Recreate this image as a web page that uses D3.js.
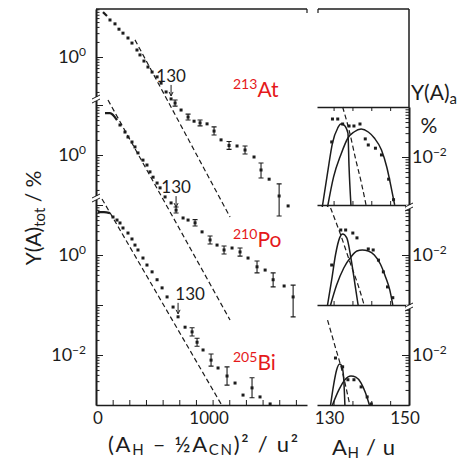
<!DOCTYPE html>
<html>
<head>
<meta charset="utf-8">
<script src="https://cdn.jsdelivr.net/npm/d3@7"></script>
<style>
  body { margin: 0; background: #fff; }
  text { font-family: Lato, "Open Sans", sans-serif; fill: #1c1c1c; }
</style>
</head>
<body>
<svg id="chart" width="457" height="465"></svg>
<script>
// ---- data ----
const massNumbers = ["213", "210", "205"];
const elements = ["At", "Po", "Bi"];

// left: x = (A_H - A_CN/2)^2 in u^2, y = Y(A)tot in %
const atTopX = [63, 99];
const atTopY = [7.9, 6.6];
const atMainX = [126, 171, 207, 243, 288, 324, 369, 396, 432, 468, 505, 550, 586, 631, 676];
const atMainY = [5.5, 4.6, 3.6, 3.0, 2.4, 1.9, 1.38, 1.1, 0.83, 0.63, 0.50, 0.40, 0.30, 0.20, 0.145];
const atTailX = [712, 766, 829, 883, 937, 1000, 1063, 1126, 1198, 1270, 1342, 1423, 1486, 1559, 1649, 1730];
const atTailY = [0.12, 0.087, 0.063, 0.052, 0.048, 0.046, 0.033, 0.022, 0.017, 0.0166, 0.0138, 0.010, 0.0055, 0.0036, 0.00166, 0.00105];
const atTailLo = [0.104, null, 0.055, null, 0.042, null, 0.0275, null, 0.0142, null, 0.0115, null, 0.0038, null, 0.00066, null];
const atTailHi = [0.138, null, 0.072, null, 0.055, null, 0.040, null, 0.0204, null, 0.0166, null, 0.0076, null, 0.0029, null];
const atDashX = [351, 1207];
const atDashY = [2.2, 0.00063];

const poTopX = [81, 126, 189];
const poTopY = [6.9, 6.9, 5.0];
const poMainX = [216, 261, 288, 324, 351, 378, 423, 459, 486, 514, 550, 577, 622, 676];
const poMainY = [3.98, 2.88, 2.29, 1.82, 1.45, 1.10, 0.79, 0.63, 0.46, 0.36, 0.275, 0.22, 0.145, 0.11];
const poTailX = [721, 784, 829, 892, 955, 1027, 1090, 1153, 1225, 1297, 1369, 1450, 1523, 1595, 1694, 1775];
const poTailY = [0.079, 0.055, 0.050, 0.044, 0.029, 0.020, 0.0158, 0.0126, 0.0138, 0.0115, 0.0087, 0.0058, 0.0050, 0.0032, 0.0024, 0.00145];
const poTailLo = [0.069, null, null, 0.038, null, 0.0166, null, 0.0105, null, 0.0095, null, 0.0044, null, 0.0023, null, 0.00058];
const poTailHi = [0.091, null, null, 0.051, null, 0.024, null, 0.0151, null, 0.0138, null, 0.0076, null, 0.0044, null, 0.0025];
const poDashX = [108, 1207];
const poDashY = [12.6, 0.0005];

const biTopX = [18, 72, 126];
const biTopY = [7.2, 7.2, 6.9];
const biMainX = [153, 189, 216, 243, 288, 324, 351, 378, 423, 459, 505, 550, 595, 640, 694, 739];
const biMainY = [5.75, 5.0, 4.37, 3.47, 2.75, 2.09, 1.58, 1.26, 0.87, 0.63, 0.46, 0.32, 0.22, 0.145, 0.091, 0.058];
const biTailX = [802, 865, 910, 964, 1036, 1099, 1180, 1252, 1324, 1405, 1477, 1568];
const biTailY = [0.036, 0.029, 0.018, 0.0126, 0.0079, 0.0055, 0.0038, 0.00275, 0.00158, 0.0022, 0.00145, 0.00105];
const biTailLo = [null, 0.024, 0.015, null, 0.006, null, 0.0025, null, null, 0.0014, null, null];
const biTailHi = [null, 0.035, 0.0216, null, 0.0105, null, 0.0058, null, null, 0.0035, null, null];
const biDashX = [54, 1126];
const biDashY = [13.2, 0.00105];

// the "130" marks, x in u^2
const mark130X = [676, 721, 739];

// right: A_H in u, Y(A)a in %
const atDotA = [129.5, 129.7, 131.1, 132.4, 134.1, 135.4, 137.0, 138.4, 139.2, 141.1, 142.7, 144.6, 145.9];
const atDotY = [0.020, 0.0575, 0.0575, 0.0457, 0.0417, 0.0417, 0.0457, 0.023, 0.0174, 0.015, 0.011, 0.0036, 0.0014];
const atNarrowA = [127.0, 128.4, 129.7, 131.1, 131.9, 132.7, 133.8, 134.1, 134.6];
const atNarrowY = [0.001, 0.0048, 0.019, 0.038, 0.0457, 0.0437, 0.030, 0.0063, 0.0011];
const atBroadA = [128.4, 130.0, 131.9, 133.8, 135.4, 137.3, 139.2, 140.8, 142.7, 144.1, 145.4, 146.2];
const atBroadY = [0.001, 0.004, 0.011, 0.024, 0.0316, 0.0363, 0.0316, 0.024, 0.0138, 0.0063, 0.0022, 0.0011];
const atFitA = [132.4, 134.1, 135.9, 137.3, 138.6];
const atFitY = [0.1, 0.0347, 0.0087, 0.0032, 0.0011];

const poDotA = [129.5, 131.9, 133.2, 135.1, 136.2, 139.2, 140.5, 141.9, 143.2, 144.3, 145.7];
const poDotY = [0.0063, 0.0316, 0.0316, 0.0275, 0.022, 0.0132, 0.0126, 0.0079, 0.0046, 0.0023, 0.0014];
const poNarrowA = [128.4, 129.5, 130.5, 131.6, 132.4, 133.5, 134.6, 135.7, 136.5];
const poNarrowY = [0.001, 0.0032, 0.010, 0.022, 0.0263, 0.022, 0.0087, 0.0025, 0.001];
const poBroadA = [129.2, 130.8, 132.7, 134.6, 136.2, 137.6, 139.2, 140.8, 142.4, 143.8, 144.9, 145.7];
const poBroadY = [0.001, 0.0025, 0.0055, 0.0091, 0.012, 0.0126, 0.012, 0.010, 0.0066, 0.0036, 0.002, 0.001];
const poFitA = [129.2, 131.9, 134.6, 136.5, 138.1];
const poFitY = [0.087, 0.025, 0.0063, 0.0025, 0.001];

const biDotA = [130.5, 132.4, 133.8, 135.4, 137.3, 138.9, 140.0];
const biDotY = [0.0087, 0.0058, 0.0032, 0.0032, 0.0023, 0.00145, 0.00105];
const biNarrowA = [129.2, 130.0, 130.8, 131.6, 132.2, 132.7, 133.0];
const biNarrowY = [0.001, 0.0025, 0.005, 0.0066, 0.006, 0.0032, 0.001];
const biBroadA = [129.7, 131.4, 133.0, 134.6, 135.9, 137.3, 138.4, 139.5];
const biBroadY = [0.001, 0.002, 0.0032, 0.0038, 0.0036, 0.00275, 0.0018, 0.001];
const biFitA = [128.4, 130.3, 132.2, 134.3];
const biFitY = [0.05, 0.0158, 0.005, 0.001];

// tick labels
const leftTickLabels = [[1], [1], [1, 0.01]];
const rightTickLabels = [[0.01], [0.01], [0.01]];
const xLeftTicks = d3.range(0, 1901, 150);
const xLeftLabels = [0, 1000];
const xRightTicks = [130, 135, 140, 145];
const xRightLabels = [130, 150];

// ---- drawing ----
const ink = "#1c1c1c";
const red = "#e5191b";
const svg = d3.select("#chart");

const xL = d3.scaleLinear().domain([0, 1900]).range([96, 307]);
const xR = d3.scaleLinear().domain([125.6, 150]).range([317, 409]);
const zeroY = [57, 155, 255];
const yS = zeroY.map(y0 => d3.scaleLog().domain([10, 1e-3]).range([y0 - 50, y0 + 150]));
const segL = [[9, 99], [99, 198], [198, 405]];
const segR = [[107, 205], [205, 305], [305, 405]];

const isDecade = v => Math.abs(Math.log10(v) - Math.round(Math.log10(v))) < 1e-6;

function logAxis(s, top, bottom, x, right) {
  const seg = s.copy().domain([s.invert(top), s.invert(bottom)]).range([top, bottom]);
  const vals = seg.ticks();
  const mk = right ? d3.axisRight : d3.axisLeft;
  const g = svg.append("g").attr("transform", `translate(${x},0)`);
  g.call(mk(seg).tickValues(vals.filter(v => !isDecade(v))).tickSize(3.5).tickSizeOuter(0).tickFormat(""));
  g.append("g").call(mk(seg).tickValues(vals.filter(isDecade)).tickSize(7).tickSizeOuter(0).tickFormat(""));
  g.selectAll("line").attr("stroke", ink).attr("stroke-width", 1);
  g.selectAll(".domain").attr("stroke", ink).attr("stroke-width", 1.6);
}

function powLabel(x, y, v, anchor) {
  const e = Math.round(Math.log10(v));
  const t = svg.append("text").attr("x", x).attr("y", y)
    .attr("text-anchor", anchor).attr("font-size", 18);
  t.append("tspan").text("10");
  t.append("tspan").attr("font-size", 12).attr("dy", -7).text(e < 0 ? "\u2212" + (-e) : e);
}

function breakMark(x, y) {
  svg.append("rect").attr("x", x - 3).attr("y", y - 2).attr("width", 6).attr("height", 4).attr("fill", "#fff");
  [-2, 2].forEach(o => svg.append("line")
    .attr("x1", x - 4).attr("y1", y + o + 2).attr("x2", x + 4).attr("y2", y + o - 2)
    .attr("stroke", ink).attr("stroke-width", 1));
}

// left frame
svg.append("line").attr("x1", 96).attr("x2", 307).attr("y1", 9).attr("y2", 9).attr("stroke", ink).attr("stroke-width", 1.5);
svg.append("line").attr("x1", 307).attr("x2", 307).attr("y1", 9).attr("y2", 13).attr("stroke", ink).attr("stroke-width", 1.2);
const gxl = svg.append("g").attr("transform", "translate(0,405)")
  .call(d3.axisTop(xL).tickValues(xLeftTicks).tickSize(5).tickSizeOuter(0).tickFormat(""));
gxl.selectAll("line").attr("stroke", ink);
gxl.select(".domain").attr("stroke", ink).attr("stroke-width", 1.6);

yS.forEach((s, i) => logAxis(s, segL[i][0], segL[i][1], 96, true));
breakMark(96, 99);
breakMark(96, 198);

// right frame
svg.append("line").attr("x1", 318).attr("x2", 409).attr("y1", 9).attr("y2", 9).attr("stroke", ink).attr("stroke-width", 1.5);
svg.append("line").attr("x1", 318).attr("x2", 318).attr("y1", 9).attr("y2", 13).attr("stroke", ink).attr("stroke-width", 1.2);
svg.append("line").attr("x1", 409).attr("x2", 409).attr("y1", 9).attr("y2", 107).attr("stroke", ink).attr("stroke-width", 1.5);
yS.forEach((s, i) => logAxis(s, segR[i][0], segR[i][1], 409, false));
[[107, d3.axisBottom], [205, d3.axisTop], [305, d3.axisTop], [405, d3.axisTop]].forEach(([y, mk]) => {
  const g = svg.append("g").attr("transform", `translate(0,${y})`)
    .call(mk(xR).tickValues(xRightTicks).tickSize(4).tickSizeOuter(0).tickFormat(""));
  g.selectAll("line").attr("stroke", ink);
  g.select(".domain").attr("stroke", ink).attr("stroke-width", 1.5);
});
breakMark(409, 207);
breakMark(409, 307);

// tick labels
leftTickLabels.forEach((vals, i) => vals.forEach(v => powLabel(86, yS[i](v) + 6, v, "end")));
rightTickLabels.forEach((vals, i) => vals.forEach(v => powLabel(412, yS[i](v) + 6, v, "start")));
xLeftLabels.forEach(v => svg.append("text").attr("x", xL(v) + 2).attr("y", 424)
  .attr("text-anchor", "middle").attr("font-size", 17).text(v));
xRightLabels.forEach(v => svg.append("text").attr("x", xR(v) - 4).attr("y", 424)
  .attr("text-anchor", "middle").attr("font-size", 17).text(v));

// axis titles
const xt = svg.append("text").attr("x", 108).attr("y", 452).attr("font-size", 22)
  .attr("textLength", 190).attr("lengthAdjust", "spacing");
xt.append("tspan").text("(A");
xt.append("tspan").attr("font-size", 15).attr("dy", 3).text("H");
xt.append("tspan").attr("dy", -3).text(" \u2013 \u00bdA");
xt.append("tspan").attr("font-size", 15).attr("dy", 3).text("CN");
xt.append("tspan").attr("dy", -3).text(")\u00b2 / u\u00b2");

const xr = svg.append("text").attr("x", 332).attr("y", 455).attr("font-size", 22)
  .attr("textLength", 63).attr("lengthAdjust", "spacing");
xr.append("tspan").text("A");
xr.append("tspan").attr("font-size", 15).attr("dy", 3).text("H");
xr.append("tspan").attr("dy", -3).text(" / u");

const yt = svg.append("text").attr("transform", "translate(41,218) rotate(-90)")
  .attr("text-anchor", "middle").attr("font-size", 21);
yt.append("tspan").text("Y(A)");
yt.append("tspan").attr("font-size", 15).attr("dy", 4).text("tot");
yt.append("tspan").attr("dy", -4).text(" / %");

const yr = svg.append("text").attr("x", 411).attr("y", 100).attr("font-size", 21);
yr.append("tspan").text("Y(A)");
yr.append("tspan").attr("font-size", 15).attr("dy", 4).text("a");
svg.append("text").attr("x", 429).attr("y", 133).attr("text-anchor", "middle").attr("font-size", 21).text("%");

// series
const left = [
  { top: [atTopX, atTopY], main: [atMainX, atMainY], tail: [atTailX, atTailY, atTailLo, atTailHi], dash: [atDashX, atDashY] },
  { top: [poTopX, poTopY], main: [poMainX, poMainY], tail: [poTailX, poTailY, poTailLo, poTailHi], dash: [poDashX, poDashY] },
  { top: [biTopX, biTopY], main: [biMainX, biMainY], tail: [biTailX, biTailY, biTailLo, biTailHi], dash: [biDashX, biDashY] }
];
const right = [
  { dots: [atDotA, atDotY], narrow: [atNarrowA, atNarrowY], broad: [atBroadA, atBroadY], fit: [atFitA, atFitY] },
  { dots: [poDotA, poDotY], narrow: [poNarrowA, poNarrowY], broad: [poBroadA, poBroadY], fit: [poFitA, poFitY] },
  { dots: [biDotA, biDotY], narrow: [biNarrowA, biNarrowY], broad: [biBroadA, biBroadY], fit: [biFitA, biFitY] }
];
const labelDx = [0, 0, 12];
const labelY = [97, 247, 370];

function drawDots(g, pts, xs, ys) {
  g.selectAll(null).data(pts).join("rect")
    .attr("x", d => xs(d[0]) - 1.5).attr("y", d => ys(d[1]) - 1.5)
    .attr("width", 3).attr("height", 3).attr("fill", ink);
}
function drawLine(g, pts, xs, ys, dashed, w) {
  g.append("path").datum(pts)
    .attr("d", d3.line().x(d => xs(d[0])).y(d => ys(d[1])).curve(d3.curveMonotoneX))
    .attr("fill", "none").attr("stroke", ink).attr("stroke-width", w)
    .attr("stroke-dasharray", dashed ? "5,3" : null);
}

left.forEach((s, i) => {
  const ys = yS[i];
  const g = svg.append("g");
  drawLine(g, d3.zip(...s.dash), xL, ys, true, 1.2);
  drawLine(g, d3.zip(...s.top), xL, ys, false, 2.2);
  drawDots(g, d3.zip(...s.main), xL, ys);
  const tail = d3.zip(...s.tail);
  drawDots(g, tail, xL, ys);
  const bars = tail.filter(d => d[2] != null);
  g.selectAll(null).data(bars).join("path")
    .attr("d", d => {
      const x = xL(d[0]), y1 = ys(d[2]), y2 = ys(d[3]);
      return `M${x},${y1}V${y2}M${x - 2.5},${y1}H${x + 2.5}M${x - 2.5},${y2}H${x + 2.5}`;
    })
    .attr("fill", "none").attr("stroke", ink).attr("stroke-width", 1.1);

  // the A_H = 130 mark
  const all = d3.zip(s.main[0].concat(s.tail[0]), s.main[1].concat(s.tail[1]));
  const p = all.find(d => d[0] === mark130X[i]);
  const ax = xL(p[0]), tip = ys(p[1]) - 3;
  g.append("path").attr("d", `M${ax},${tip - 11}V${tip}M${ax - 2},${tip - 4}L${ax},${tip}L${ax + 2},${tip - 4}`)
    .attr("fill", "none").attr("stroke", ink).attr("stroke-width", 1);
  g.append("text").attr("x", ax + labelDx[i]).attr("y", tip - 14)
    .attr("text-anchor", "middle").attr("font-size", 17).text("130");

  // nucleus label
  const t = svg.append("text").attr("x", 233).attr("y", labelY[i]).attr("font-size", 21);
  t.append("tspan").attr("font-size", 14).attr("dy", -8).style("fill", red).text(massNumbers[i]);
  t.append("tspan").attr("dy", 8).style("fill", red).text(elements[i]);
});

right.forEach((s, i) => {
  const ys = yS[i];
  const g = svg.append("g");
  drawLine(g, d3.zip(...s.fit), xR, ys, true, 1.2);
  drawLine(g, d3.zip(...s.narrow), xR, ys, false, 1.5);
  drawLine(g, d3.zip(...s.broad), xR, ys, false, 1.5);
  drawDots(g, d3.zip(...s.dots), xR, ys);
});
</script>
</body>
</html>
